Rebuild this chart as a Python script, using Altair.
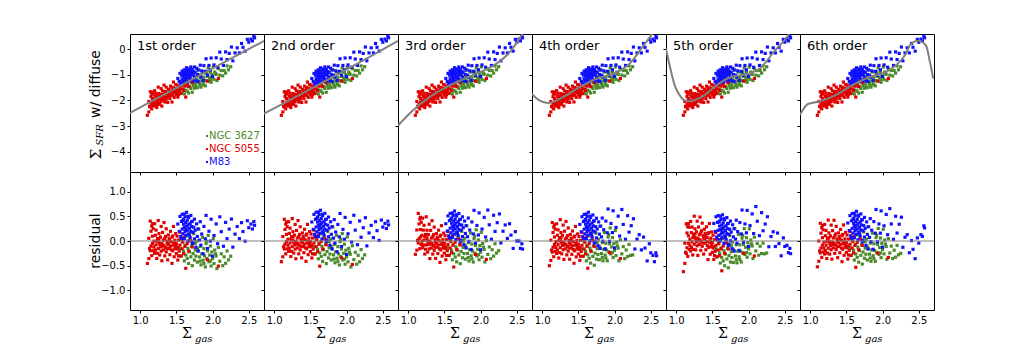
import altair as alt
import numpy as np
import pandas as pd

galaxies = ["NGC 3627", "NGC 5055", "M83"]
colors = ["#4a8a2a", "#e00000", "#1010ff"]
order_titles = ["1st order", "2nd order", "3rd order", "4th order", "5th order", "6th order"]

# NGC 3627 (green)
ngc3627_x = [1.55, 1.57, 1.58, 1.60, 1.61, 1.62, 1.63, 1.64, 1.65, 1.66, 1.67, 1.68, 1.69, 1.70, 1.71, 1.72,
             1.73, 1.74, 1.75, 1.76, 1.77, 1.78, 1.79, 1.80, 1.81, 1.82, 1.83, 1.84, 1.85, 1.86, 1.87, 1.88,
             1.89, 1.90, 1.91, 1.92, 1.93, 1.94, 1.95, 1.96, 1.97, 1.98, 1.99, 2.00, 2.01, 2.02, 2.03, 2.05,
             2.06, 2.08, 2.10, 2.12, 2.14, 2.16, 2.18, 2.20, 2.22, 2.25, 1.70, 1.76, 1.83, 1.88, 1.79, 1.92,
             1.97, 2.04]
ngc3627_y = [-1.59, -1.71, -1.40, -1.57, -1.75, -1.42, -1.60, -1.20, -1.64, -1.42, -1.71, -1.46, -1.18, -1.53,
             -1.30, -1.68, -1.42, -1.00, -1.52, -1.30, -1.41, -1.09, -1.50, -1.26, -0.80, -1.35, -1.12, -1.48,
             -1.24, -0.89, -1.34, -1.09, -1.22, -1.43, -0.94, -1.23, -1.06, -0.73, -1.25, -1.10, -0.90, -1.29,
             -0.99, -1.11, -0.69, -1.18, -0.89, -0.98, -1.22, -0.76, -1.01, -0.83, -1.04, -0.83, -0.93, -0.65,
             -0.80, -0.68, -1.03, -1.17, -1.42, -1.39, -1.23, -0.88, -1.20, -0.95]

# NGC 5055 (red)
ngc5055_x = [1.10, 1.12, 1.13, 1.14, 1.15, 1.15, 1.16, 1.16, 1.17, 1.17, 1.18, 1.18, 1.19, 1.20, 1.20, 1.21,
             1.22, 1.22, 1.23, 1.24, 1.25, 1.25, 1.26, 1.26, 1.27, 1.28, 1.28, 1.29, 1.30, 1.30, 1.31, 1.32,
             1.32, 1.33, 1.33, 1.34, 1.35, 1.35, 1.36, 1.36, 1.37, 1.38, 1.38, 1.39, 1.40, 1.40, 1.41, 1.42,
             1.42, 1.43, 1.44, 1.44, 1.45, 1.46, 1.46, 1.47, 1.48, 1.48, 1.49, 1.50, 1.50, 1.51, 1.52, 1.52,
             1.53, 1.54, 1.55, 1.55, 1.56, 1.57, 1.58, 1.59, 1.60, 1.61, 1.62, 1.63, 1.65, 1.67, 1.70, 1.72,
             1.93, 2.08, 1.19, 1.23, 1.27, 1.29, 1.31, 1.34, 1.37, 1.39, 1.41, 1.43, 1.45, 1.47, 1.49, 1.51,
             1.53, 1.21, 1.24, 1.26, 1.14, 1.12, 1.17]
ngc5055_y = [-2.58, -2.04, -2.23, -1.66, -1.85, -2.15, -1.73, -2.33, -1.92, -2.07, -1.75, -2.20, -1.99, -1.62,
             -2.22, -1.84, -2.02, -1.72, -2.28, -1.86, -2.05, -1.48, -1.73, -1.90, -2.15, -1.77, -1.97, -1.54,
             -1.87, -2.22, -1.63, -1.97, -1.77, -1.86, -1.40, -2.06, -1.65, -1.87, -1.95, -1.48, -1.72, -2.08,
             -1.75, -1.56, -1.82, -1.62, -1.93, -1.44, -1.74, -1.64, -2.06, -1.53, -1.79, -1.28, -1.66, -1.88,
             -1.53, -1.70, -1.38, -1.57, -1.77, -1.40, -1.61, -1.87, -1.45, -1.66, -1.26, -1.52, -1.73, -1.36,
             -1.55, -1.40, -1.62, -1.27, -1.44, -1.87, -1.34, -1.46, -1.21, -1.30, -1.24, -1.14, -2.11, -1.93,
             -1.93, -2.04, -1.91, -1.71, -1.87, -1.76, -1.65, -1.80, -1.49, -1.61, -1.63, -1.66, -1.77, -2.14,
             -2.16, -1.83, -2.26, -2.45, -1.67]

# M83 (blue)
m83_x = [1.52, 1.54, 1.55, 1.56, 1.57, 1.58, 1.58, 1.59, 1.60, 1.60, 1.61, 1.61, 1.62, 1.62, 1.63, 1.63,
         1.64, 1.64, 1.65, 1.65, 1.66, 1.66, 1.67, 1.67, 1.68, 1.69, 1.69, 1.70, 1.70, 1.71, 1.72, 1.72,
         1.73, 1.74, 1.75, 1.75, 1.76, 1.77, 1.78, 1.79, 1.80, 1.80, 1.82, 1.83, 1.84, 1.85, 1.87, 1.88,
         1.90, 1.91, 1.93, 1.95, 1.97, 1.98, 2.00, 2.02, 2.05, 2.07, 2.10, 2.12, 2.15, 2.18, 2.20, 2.23,
         2.26, 2.28, 2.31, 2.34, 2.37, 2.40, 2.42, 2.45, 2.48, 2.50, 2.53, 2.55, 2.57, 2.58, 1.59, 1.61,
         1.63, 1.66, 1.68, 1.71, 1.57, 1.73]
m83_y = [-1.14, -1.26, -0.94, -1.33, -1.01, -1.15, -0.85, -1.23, -1.02, -0.92, -1.30, -1.07, -0.84, -1.14,
         -0.94, -1.20, -1.00, -0.72, -1.07, -0.87, -1.27, -0.94, -1.11, -0.78, -0.98, -0.87, -1.15, -1.01,
         -0.69, -0.90, -1.23, -0.78, -0.99, -0.87, -1.09, -0.69, -0.90, -1.23, -0.74, -0.98, -1.26, -0.81,
         -1.01, -0.62, -1.08, -0.84, -1.21, -0.64, -0.86, -0.37, -1.01, -0.63, -0.80, -0.34, -1.06, -0.61,
         -0.33, -0.70, -0.11, -0.38, -0.63, -0.10, -0.40, -0.16, 0.09, -0.45, -0.14, 0.06, -0.14, 0.23,
         0.08, -0.07, 0.39, 0.28, 0.40, 0.33, 0.51, 0.45, -0.96, -0.80, -1.07, -0.77, -1.12, -0.80,
         -1.36, -1.19]

# polynomial fit curves
fit1_x = [0.86, 2.71]
fit1_y = [-2.49, 0.33]
fit2_x = [0.86, 1.30, 1.80, 2.30, 2.71]
fit2_y = [-2.52, -1.86, -1.10, -0.32, 0.33]
fit3_x = [0.86, 1.06, 1.29, 1.52, 1.75, 1.98, 2.21, 2.40, 2.56, 2.62]
fit3_y = [-2.98, -2.40, -1.88, -1.49, -1.18, -0.91, -0.58, -0.12, 0.52, 0.80]
fit4_x = [0.86, 0.95, 1.08, 1.28, 1.51, 1.74, 1.97, 2.20, 2.43, 2.50, 2.54]
fit4_y = [-1.75, -1.98, -2.10, -1.88, -1.49, -1.16, -0.97, -0.58, 0.26, 0.52, 0.75]
fit5_x = [0.86, 0.91, 0.98, 1.05, 1.11, 1.18, 1.27, 1.39, 1.50, 1.62, 1.76, 1.87, 2.00, 2.17, 2.36, 2.54, 2.60]
fit5_y = [0.02, -0.63, -1.41, -1.80, -1.99, -2.03, -1.97, -1.80, -1.54, -1.28, -1.08, -1.02, -0.95, -0.71,
          -0.06, 0.52, 0.80]
fit6_x = [0.86, 0.97, 1.11, 1.34, 1.57, 1.80, 2.03, 2.23, 2.32, 2.39, 2.49, 2.60, 2.65, 2.70]
fit6_y = [-2.56, -2.14, -2.05, -1.81, -1.42, -1.10, -0.91, -0.50, -0.18, 0.21, 0.34, 0.15, -0.44, -1.15]

fits_x = [fit1_x, fit2_x, fit3_x, fit4_x, fit5_x, fit6_x]
fits_y = [fit1_y, fit2_y, fit3_y, fit4_y, fit5_y, fit6_y]

x_ticks = [1.0, 1.5, 2.0, 2.5]
ytop_ticks = [0, -1, -2, -3, -4]
ybot_ticks = [-1.0, -0.5, 0.0, 0.5, 1.0]

rows = []
for name, gx, gy in [("NGC 3627", ngc3627_x, ngc3627_y),
                     ("NGC 5055", ngc5055_x, ngc5055_y),
                     ("M83", m83_x, m83_y)]:
    for xv, yv in zip(gx, gy):
        row = {"galaxy": name, "x": xv, "y": yv}
        for k in range(6):
            row[f"r{k + 1}"] = float(yv - np.interp(xv, fits_x[k], fits_y[k]))
        rows.append(row)
pts = pd.DataFrame(rows)

W, H = 134, 138
xs = alt.Scale(domain=[0.86, 2.71], nice=False, zero=False)
ys_top = alt.Scale(domain=[-4.8, 0.6], nice=False, zero=False)
ys_bot = alt.Scale(domain=[-1.4, 1.4], nice=False, zero=False)
color = alt.Color("galaxy:N", scale=alt.Scale(domain=galaxies, range=colors), legend=None)
one = alt.Data(values=[{}])
PT = 10


def txt(text, x, y, **kw):
    return alt.Chart(one).mark_text(text=text, **kw).encode(x=alt.value(x), y=alt.value(y))


def top_panel(k):
    first = k == 0
    x_axis = alt.Axis(values=x_ticks, labels=False, title=None)
    y_axis = alt.Axis(values=ytop_ticks, labels=first, format="d", title=None)
    p = alt.Chart(pts).mark_square(size=PT, opacity=1).encode(
        x=alt.X("x:Q", scale=xs, axis=x_axis),
        y=alt.Y("y:Q", scale=ys_top, axis=y_axis),
        color=color,
    )
    curve = alt.Chart(pd.DataFrame({"cx": fits_x[k], "cy": fits_y[k]})).mark_line(
        color="#808080", strokeWidth=2, clip=True, interpolate="monotone"
    ).encode(
        x=alt.X("cx:Q", scale=xs, axis=x_axis),
        y=alt.Y("cy:Q", scale=ys_top, axis=y_axis),
    )
    layers = [p, curve, txt(order_titles[k], 7, 12, align="left", baseline="middle",
                            fontSize=13, font="DejaVu Sans", color="black")]
    if first:
        for i, (g, c) in enumerate(zip(galaxies, colors)):
            layers.append(alt.Chart(one).mark_square(size=4, color=c, opacity=1).encode(
                x=alt.value(77), y=alt.value(102 + 13 * i)))
            layers.append(txt(g, 79, 102 + 13 * i, align="left", baseline="middle",
                              fontSize=10, font="DejaVu Sans", color=c))
        layers.append(txt("Σ", -34, 120, angle=270, align="center", baseline="middle",
                          fontSize=15, font="DejaVu Serif", color="black"))
        layers.append(txt("SFR", -30, 101, angle=270, align="center", baseline="middle",
                          fontSize=10, font="DejaVu Serif", fontStyle="italic", color="black"))
        layers.append(txt("w/ diffuse", -34, 50, angle=270, align="center", baseline="middle",
                          fontSize=14, font="DejaVu Sans", color="black"))
    return alt.layer(*layers).properties(width=W, height=H)


def bottom_panel(k):
    first = k == 0
    x_axis = alt.Axis(values=x_ticks, format=".1f", title=None)
    y_axis = alt.Axis(values=ybot_ticks, labels=first, format=".1f", title=None)
    p = alt.Chart(pts).mark_square(size=PT, opacity=1).encode(
        x=alt.X("x:Q", scale=xs, axis=x_axis),
        y=alt.Y(f"r{k + 1}:Q", scale=ys_bot, axis=y_axis),
        color=color,
    )
    zero = alt.Chart(one).mark_rule(color="#808080", strokeWidth=1).encode(
        y=alt.Y(datum=0, scale=ys_bot, axis=y_axis))
    layers = [p, zero,
              txt("Σ", 57, 162, align="center", baseline="middle", fontSize=14,
                  font="DejaVu Serif", color="black"),
              txt("gas", 65, 167, align="left", baseline="middle", fontSize=10,
                  font="DejaVu Serif", fontStyle="italic", color="black")]
    if first:
        layers.append(txt("residual", -34, 69, angle=270, align="center", baseline="middle",
                          fontSize=14, font="DejaVu Sans", color="black"))
    return alt.layer(*layers).properties(width=W, height=H)


panels = [top_panel(k) for k in range(6)] + [bottom_panel(k) for k in range(6)]

chart = alt.concat(*panels, columns=6, spacing=0, bounds="flush").properties(
    padding={"left": 80, "top": 25, "right": 5, "bottom": 5},
    background="white",
).configure_view(
    stroke="black", strokeWidth=1
).configure_axis(
    domain=False, grid=False, labelFont="DejaVu Sans", labelFontSize=10, labelColor="black",
    tickColor="black", tickSize=3, labelPadding=2
)

chart.save("out.html", embed_options={"renderer": "svg", "actions": False})
